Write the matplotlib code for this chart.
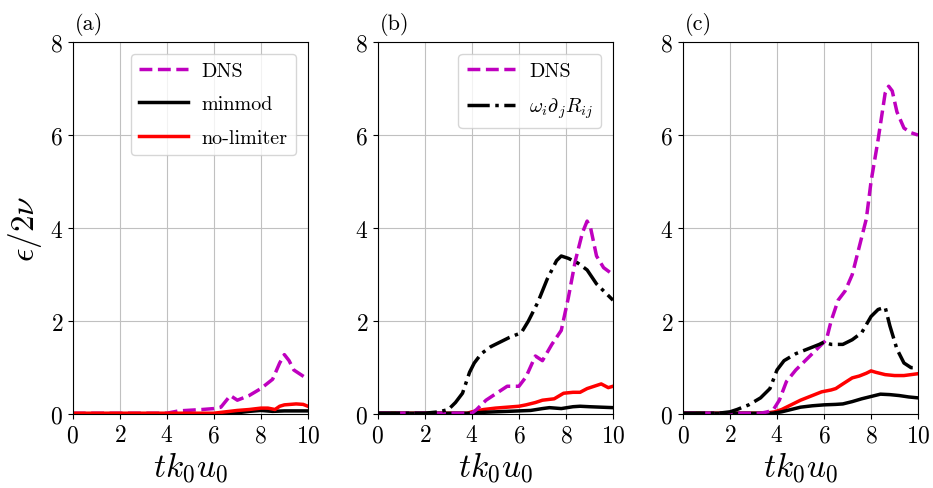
import matplotlib
matplotlib.use('Agg')
import matplotlib.pyplot as plt

plt.rcParams['font.family'] = 'serif'
plt.rcParams['font.serif'] = ['cmr10']
plt.rcParams['mathtext.fontset'] = 'cm'
plt.rcParams['axes.formatter.use_mathtext'] = True

# panel (a)
xa_dns = [0, 4.0, 4.5, 5.5, 6.0, 6.3, 6.7, 7.0, 7.5, 8.0, 8.5, 8.8, 9.0, 9.2, 9.4, 9.7, 10.0]
ya_dns = [0.02, 0.02, 0.07, 0.1, 0.12, 0.15, 0.4, 0.3, 0.4, 0.55, 0.75, 1.1, 1.28, 1.15, 0.95, 0.85, 0.75]
xa_red = [0, 6.0, 6.5, 7.0, 7.5, 8.0, 8.3, 8.6, 8.8, 9.0, 9.5, 9.8, 10.0]
ya_red = [0.02, 0.02, 0.05, 0.08, 0.1, 0.13, 0.13, 0.1, 0.17, 0.2, 0.22, 0.21, 0.17]
xa_blk = [0, 6.5, 7.0, 7.5, 8.0, 8.5, 9.0, 10.0]
ya_blk = [0.01, 0.01, 0.03, 0.06, 0.08, 0.06, 0.07, 0.07]

# panel (b)
xb_dns = [0, 4.0, 4.2, 4.6, 5.2, 5.5, 6.0, 6.3, 6.7, 7.0, 7.4, 7.8, 8.1, 8.4, 8.7, 8.9, 9.05, 9.3, 9.6, 10.0]
yb_dns = [0.02, 0.02, 0.1, 0.3, 0.5, 0.6, 0.6, 0.8, 1.25, 1.15, 1.5, 1.8, 2.5, 3.3, 3.9, 4.15, 4.0, 3.4, 3.15, 3.0]
xb_mod = [0, 2.0, 2.6, 3.0, 3.3, 3.6, 3.9, 4.1, 4.4, 4.8, 5.2, 5.6, 6.1, 6.4, 6.8, 7.2, 7.6, 7.8, 8.1, 8.5, 8.9, 9.3, 9.7, 10.0]
yb_mod = [0.02, 0.02, 0.05, 0.1, 0.25, 0.45, 0.9, 1.1, 1.3, 1.45, 1.55, 1.65, 1.75, 2.0, 2.4, 2.9, 3.3, 3.4, 3.35, 3.25, 3.1, 2.8, 2.6, 2.45]
xb_red = [0, 3.8, 4.0, 4.5, 5.0, 5.5, 6.0, 6.3, 6.7, 7.0, 7.5, 7.9, 8.3, 8.6, 8.9, 9.2, 9.5, 9.8, 10.0]
yb_red = [0.02, 0.02, 0.05, 0.1, 0.13, 0.15, 0.17, 0.2, 0.25, 0.3, 0.33, 0.45, 0.47, 0.47, 0.55, 0.6, 0.65, 0.57, 0.6]
xb_blk = [0, 4.0, 4.5, 5.5, 6.5, 7.0, 7.3, 7.8, 8.3, 8.6, 9.0, 9.5, 10.0]
yb_blk = [0.02, 0.02, 0.04, 0.06, 0.08, 0.12, 0.14, 0.12, 0.16, 0.17, 0.16, 0.15, 0.14]

# panel (c)
xc_dns = [0, 3.3, 3.6, 3.85, 4.1, 4.4, 4.8, 5.1, 5.5, 5.8, 6.1, 6.3, 6.6, 6.9, 7.2, 7.5, 7.8, 8.0, 8.3, 8.6, 8.75, 8.9, 9.1, 9.4, 9.7, 10.0]
yc_dns = [0.02, 0.02, 0.05, 0.1, 0.3, 0.7, 0.95, 1.1, 1.3, 1.45, 1.6, 2.0, 2.45, 2.65, 3.0, 3.6, 4.2, 5.0, 5.9, 6.9, 7.05, 6.95, 6.5, 6.15, 6.05, 6.0]
xc_mod = [0, 1.5, 2.0, 2.3, 2.8, 3.3, 3.7, 4.0, 4.3, 4.8, 5.3, 5.8, 6.0, 6.3, 6.8, 7.2, 7.6, 8.0, 8.3, 8.6, 8.8, 9.1, 9.4, 9.7, 10.0]
yc_mod = [0.02, 0.02, 0.05, 0.1, 0.2, 0.35, 0.55, 0.95, 1.15, 1.3, 1.4, 1.5, 1.55, 1.5, 1.5, 1.6, 1.75, 2.1, 2.25, 2.3, 1.9, 1.4, 1.1, 1.0, 1.0]
xc_red = [0, 3.5, 3.9, 4.2, 4.6, 5.0, 5.5, 5.9, 6.3, 6.5, 6.8, 7.2, 7.5, 7.8, 8.0, 8.2, 8.6, 9.0, 9.4, 9.7, 10.0]
yc_red = [0.02, 0.02, 0.05, 0.1, 0.2, 0.3, 0.4, 0.48, 0.52, 0.55, 0.65, 0.78, 0.82, 0.88, 0.93, 0.9, 0.85, 0.83, 0.83, 0.85, 0.87]
xc_blk = [0, 3.8, 4.2, 4.6, 5.0, 5.5, 6.0, 6.5, 6.8, 7.2, 7.6, 8.0, 8.4, 8.8, 9.2, 9.6, 10.0]
yc_blk = [0.02, 0.02, 0.05, 0.1, 0.15, 0.18, 0.2, 0.21, 0.22, 0.27, 0.33, 0.38, 0.43, 0.42, 0.4, 0.37, 0.35]

panel_labels = ['(a)', '(b)', '(c)']
xticks = [0, 2, 4, 6, 8, 10]
yticks = [0, 2, 4, 6, 8]

fig = plt.figure(figsize=(9.33, 4.89), dpi=100)
lefts = [0.078, 0.405, 0.732]
axes = [fig.add_axes([l, 0.151, 0.252, 0.761]) for l in lefts]

lw = 2.5
ax = axes[0]
ax.plot(xa_dns, ya_dns, '--', color='m', lw=lw, label='DNS')
ax.plot(xa_blk, ya_blk, '-', color='k', lw=lw, label='minmod')
ax.plot(xa_red, ya_red, '-', color='r', lw=lw, label='no-limiter')

ax = axes[1]
ax.plot(xb_red, yb_red, '-', color='r', lw=lw)
ax.plot(xb_blk, yb_blk, '-', color='k', lw=lw)
ax.plot(xb_dns, yb_dns, '--', color='m', lw=lw, label='DNS')
ax.plot(xb_mod, yb_mod, '-.', color='k', lw=lw, label=r'$\omega_i\partial_j R_{ij}$')

ax = axes[2]
ax.plot(xc_red, yc_red, '-', color='r', lw=lw)
ax.plot(xc_blk, yc_blk, '-', color='k', lw=lw)
ax.plot(xc_dns, yc_dns, '--', color='m', lw=lw)
ax.plot(xc_mod, yc_mod, '-.', color='k', lw=lw)

for ax, lab in zip(axes, panel_labels):
    ax.set_xlim(0, 10)
    ax.set_ylim(0, 8)
    ax.set_xticks(xticks)
    ax.set_yticks(yticks)
    ax.tick_params(labelsize=17)
    ax.grid(True, color='#c0c0c0', lw=0.8)
    ax.set_axisbelow(True)
    ax.set_xlabel(r'$tk_0u_0$', fontsize=24, labelpad=2)
    ax.text(0.01, 1.035, lab, transform=ax.transAxes, fontsize=16)

leg_kw = dict(loc='upper right', fontsize=14.5, borderaxespad=0.6,
              labelspacing=0.75, handlelength=2.4, handletextpad=0.7)
axes[0].set_ylabel(r'$\epsilon/2\nu$', fontsize=24)
axes[0].legend(**leg_kw)
axes[1].legend(**leg_kw)

plt.savefig('out.png', dpi=100)
